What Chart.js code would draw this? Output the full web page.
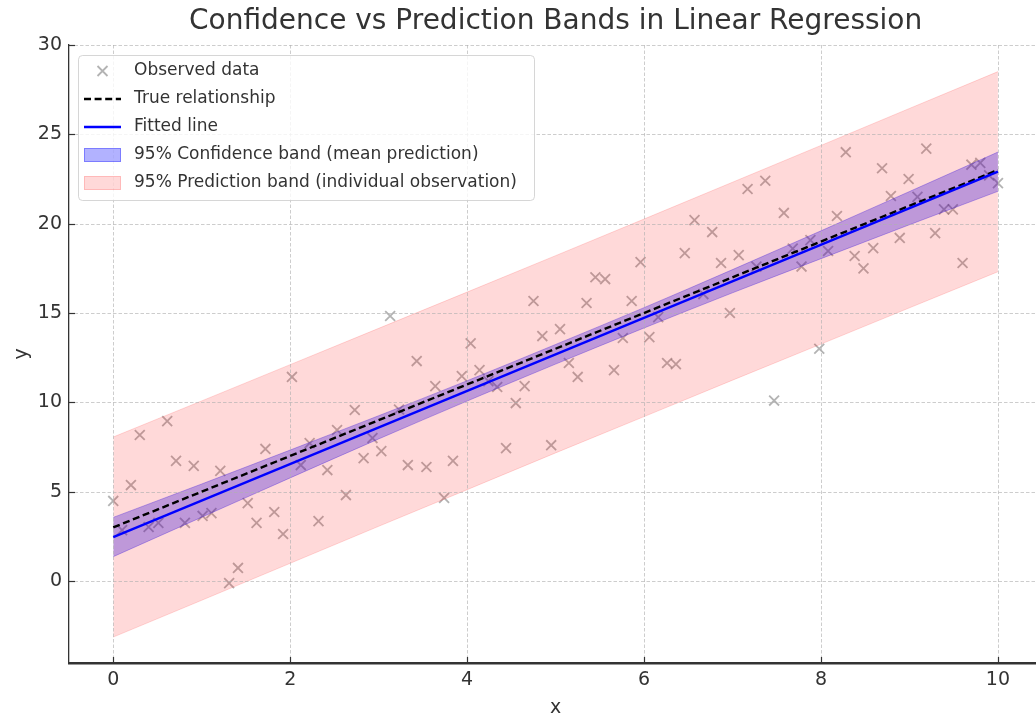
<!DOCTYPE html>
<html>
<head>
<meta charset="utf-8">
<title>Confidence vs Prediction Bands in Linear Regression</title>
<script src="https://cdn.jsdelivr.net/npm/chart.js@4.4.1/dist/chart.umd.min.js"></script>
<style>
  html, body { margin: 0; padding: 0; background: #ffffff; overflow: hidden; }
  #wrap { width: 1036px; height: 723px; position: relative; }
</style>
</head>
<body>
<div id="wrap"><canvas id="chart"></canvas></div>
<script>
// Observed sample (x, y)
const xObs = [
  0.00, 0.10, 0.20, 0.30, 0.40, 0.51, 0.61, 0.71, 0.81, 0.91,
  1.01, 1.11, 1.21, 1.31, 1.41, 1.52, 1.62, 1.72, 1.82, 1.92,
  2.02, 2.12, 2.22, 2.32, 2.42, 2.53, 2.63, 2.73, 2.83, 2.93,
  3.03, 3.13, 3.23, 3.33, 3.43, 3.54, 3.64, 3.74, 3.84, 3.94,
  4.04, 4.14, 4.24, 4.34, 4.44, 4.55, 4.65, 4.75, 4.85, 4.95,
  5.05, 5.15, 5.25, 5.35, 5.45, 5.56, 5.66, 5.76, 5.86, 5.96,
  6.06, 6.16, 6.26, 6.36, 6.46, 6.57, 6.67, 6.77, 6.87, 6.97,
  7.07, 7.17, 7.27, 7.37, 7.47, 7.58, 7.68, 7.78, 7.88, 7.98,
  8.08, 8.18, 8.28, 8.38, 8.48, 8.59, 8.69, 8.79, 8.89, 8.99,
  9.09, 9.19, 9.29, 9.39, 9.49, 9.60, 9.70, 9.80, 9.90, 10.00
];
const yObs = [
  4.48, 2.85, 5.37, 8.17, 3.02, 3.25, 8.95, 6.72, 3.25, 6.44,
  3.64, 3.80, 6.16, -0.12, 0.73, 4.36, 3.25, 7.39, 3.86, 2.63,
  11.42, 6.49, 7.72, 3.35, 6.21, 8.45, 4.81, 9.57, 6.88, 8.00,
  7.27, 14.83, 9.60, 6.49, 12.31, 6.38, 10.91, 4.65, 6.72, 11.47,
  13.30, 11.80, 11.19, 10.86, 7.44, 9.96, 10.91, 15.67, 13.71, 7.60,
  14.10, 12.20, 11.42, 15.56, 17.00, 16.90, 11.80, 13.60, 15.67, 17.85,
  13.65, 14.77, 12.20, 12.14, 18.35, 20.20, 16.06, 19.53, 17.80, 15.00,
  18.24, 21.94, 17.60, 22.40, 10.10, 20.60, 18.60, 17.60, 19.08, 13.00,
  18.47, 20.43, 24.00, 18.19, 17.50, 18.63, 23.10, 21.55, 19.20, 22.50,
  21.50, 24.20, 19.47, 20.80, 20.80, 17.80, 23.30, 23.40, 22.70, 22.27
];

// Reference lines (end points)
const lineX = [0, 10];
const trueY = [3.0, 23.0];
const fitY = [2.46, 22.91];

// Band limits sampled along x
const bandX = [0, 1, 2, 3, 4, 5, 6, 7, 8, 9, 10];
const confUpper = [3.56, 5.43, 7.33, 9.25, 11.21, 13.24, 15.30, 17.43, 19.60, 21.80, 24.01];
const confLower = [1.36, 3.57, 5.77, 7.95, 10.07, 12.14, 14.16, 16.13, 18.04, 19.94, 21.81];
const predUpper = [8.06, 10.08, 12.11, 14.14, 16.17, 18.21, 20.26, 22.32, 24.38, 26.45, 28.51];
const predLower = [-3.14, -1.08, 0.99, 3.06, 5.11, 7.17, 9.20, 11.24, 13.26, 15.29, 17.31];

// Axis ticks
const xTicks = [0, 2, 4, 6, 8, 10];
const yTicks = [0, 5, 10, 15, 20, 25, 30];

// Texts
const chartTitle = 'Confidence vs Prediction Bands in Linear Regression';
const xTitle = 'x';
const yTitle = 'y';
const legendLabels = [
  'Observed data',
  'True relationship',
  'Fitted line',
  '95% Confidence band (mean prediction)',
  '95% Prediction band (individual observation)'
];

const FONT = '"DejaVu Sans", "Liberation Sans", sans-serif';
const TEXT = '#333333';
const POINT_COLOR = 'rgba(128,128,128,0.6)';
const CONF_COLOR = 'rgba(0,0,255,0.3)';
const PRED_COLOR = 'rgba(255,0,0,0.15)';
const LINE_W = 2.4;
const DASH = [7, 3.6];

const pts = (xs, ys) => xs.map((x, i) => ({ x: x, y: ys[i] }));

// Dashed grid, drawn above the bands and below the two lines
const dashedGrid = {
  id: 'dashedGrid',
  beforeDatasetDraw(chart, args) {
    if (args.index !== 1) return;
    const { ctx, chartArea: a, scales: { x, y } } = chart;
    ctx.save();
    ctx.strokeStyle = 'rgba(176,176,176,0.7)';
    ctx.lineWidth = 0.9;
    ctx.setLineDash([3.5, 2]);
    xTicks.forEach(v => {
      const px = Math.round(x.getPixelForValue(v)) + 0.5;
      ctx.beginPath(); ctx.moveTo(px, a.top); ctx.lineTo(px, a.bottom); ctx.stroke();
    });
    yTicks.forEach(v => {
      const py = Math.round(y.getPixelForValue(v)) + 0.5;
      ctx.beginPath(); ctx.moveTo(a.left, py); ctx.lineTo(a.right, py); ctx.stroke();
    });
    ctx.restore();
  }
};

// Title, x label, inward tick marks and the boxed legend
const decorations = {
  id: 'decorations',
  afterDraw(chart) {
    const { ctx, chartArea: a, scales: { x, y } } = chart;
    ctx.save();

    // title and x label centred on the axes span (-0.5 .. 10.5)
    const cx = x.getPixelForValue(5);
    ctx.fillStyle = TEXT;
    ctx.textAlign = 'center';
    ctx.textBaseline = 'middle';
    ctx.font = '28px ' + FONT;
    ctx.fillText(chartTitle, cx, 22);
    ctx.font = '19px ' + FONT;
    ctx.fillText(xTitle, cx, 708);

    ctx.strokeStyle = '#333333';
    ctx.lineWidth = 1.2;
    xTicks.forEach(v => {
      const px = Math.round(x.getPixelForValue(v)) + 0.5;
      ctx.beginPath(); ctx.moveTo(px, a.bottom); ctx.lineTo(px, a.bottom - 6); ctx.stroke();
    });
    yTicks.forEach(v => {
      const py = Math.round(y.getPixelForValue(v)) + 0.5;
      ctx.beginPath(); ctx.moveTo(a.left, py); ctx.lineTo(a.left + 6, py); ctx.stroke();
    });

    // legend frame
    const bx = 78.5, by = 55.5, bw = 456, bh = 145, r = 4;
    ctx.beginPath();
    ctx.moveTo(bx + r, by);
    ctx.lineTo(bx + bw - r, by); ctx.quadraticCurveTo(bx + bw, by, bx + bw, by + r);
    ctx.lineTo(bx + bw, by + bh - r); ctx.quadraticCurveTo(bx + bw, by + bh, bx + bw - r, by + bh);
    ctx.lineTo(bx + r, by + bh); ctx.quadraticCurveTo(bx, by + bh, bx, by + bh - r);
    ctx.lineTo(bx, by + r); ctx.quadraticCurveTo(bx, by, bx + r, by);
    ctx.closePath();
    ctx.fillStyle = 'rgba(255,255,255,0.8)';
    ctx.fill();
    ctx.strokeStyle = 'rgba(204,204,204,0.8)';
    ctx.lineWidth = 1;
    ctx.stroke();

    const rowY = i => 71 + i * 28;
    const x0 = 84, x1 = 121, xm = 102.5;

    // marker
    ctx.strokeStyle = POINT_COLOR;
    ctx.lineWidth = 1.8;
    const s = 5;
    ctx.beginPath();
    ctx.moveTo(xm - s, rowY(0) - s); ctx.lineTo(xm + s, rowY(0) + s);
    ctx.moveTo(xm + s, rowY(0) - s); ctx.lineTo(xm - s, rowY(0) + s);
    ctx.stroke();

    // dashed black
    ctx.strokeStyle = '#000000';
    ctx.lineWidth = LINE_W;
    ctx.setLineDash(DASH);
    ctx.beginPath(); ctx.moveTo(x0, rowY(1)); ctx.lineTo(x1, rowY(1)); ctx.stroke();
    ctx.setLineDash([]);

    // solid blue
    ctx.strokeStyle = '#0000ff';
    ctx.beginPath(); ctx.moveTo(x0, rowY(2)); ctx.lineTo(x1, rowY(2)); ctx.stroke();

    // patches
    [[3, CONF_COLOR], [4, PRED_COLOR]].forEach(([i, c]) => {
      ctx.fillStyle = c;
      ctx.strokeStyle = c;
      ctx.lineWidth = 1;
      ctx.fillRect(x0, rowY(i) - 7, x1 - x0, 14);
      ctx.strokeRect(x0 + 0.5, rowY(i) - 6.5, x1 - x0 - 1, 13);
    });

    ctx.fillStyle = TEXT;
    ctx.font = '17px ' + FONT;
    ctx.textBaseline = 'middle';
    ctx.textAlign = 'left';
    legendLabels.forEach((t, i) => ctx.fillText(t, 134, rowY(i)));
    ctx.restore();
  }
};

new Chart(document.getElementById('chart'), {
  type: 'line',
  data: {
    datasets: [
      { label: legendLabels[2], data: pts(lineX, fitY), order: 0,
        borderColor: '#0000ff', borderWidth: LINE_W, pointRadius: 0, fill: false },
      { label: legendLabels[1], data: pts(lineX, trueY), order: 1,
        borderColor: '#000000', borderWidth: LINE_W, borderDash: DASH, pointRadius: 0, fill: false },
      { label: legendLabels[4], data: pts(bandX, predUpper), order: 2,
        borderColor: PRED_COLOR, backgroundColor: PRED_COLOR, borderWidth: 1, pointRadius: 0, fill: '+1' },
      { label: 'prediction lower', data: pts(bandX, predLower), order: 2,
        borderColor: PRED_COLOR, borderWidth: 1, pointRadius: 0, fill: false },
      { label: legendLabels[3], data: pts(bandX, confUpper), order: 3, cubicInterpolationMode: 'monotone',
        borderColor: CONF_COLOR, backgroundColor: CONF_COLOR, borderWidth: 1, pointRadius: 0, fill: '+1' },
      { label: 'confidence lower', data: pts(bandX, confLower), order: 3, cubicInterpolationMode: 'monotone',
        borderColor: CONF_COLOR, borderWidth: 1, pointRadius: 0, fill: false },
      { label: legendLabels[0], data: pts(xObs, yObs), order: 4, showLine: false,
        pointStyle: 'crossRot', pointRadius: 7, pointBorderWidth: 1.8,
        pointBorderColor: POINT_COLOR, pointBackgroundColor: POINT_COLOR, fill: false }
    ]
  },
  options: {
    responsive: true,
    maintainAspectRatio: false,
    animation: false,
    devicePixelRatio: 1,
    layout: { autoPadding: false, padding: { left: 0, right: 0, top: 45, bottom: 0 } },
    plugins: {
      legend: { display: false },
      tooltip: { enabled: false },
      title: { display: false }
    },
    scales: {
      x: {
        type: 'linear',
        min: -0.5,
        max: 10.43,
        afterBuildTicks: s => { s.ticks = xTicks.map(v => ({ value: v })); },
        afterFit: s => { s.height = 60; s.paddingLeft = 0; s.paddingRight = 0; },
        grid: { display: true, color: 'rgba(0,0,0,0)', drawTicks: false },
        border: { display: true, color: '#333333', width: 2.5 },
        ticks: { color: TEXT, font: { family: FONT, size: 19 }, padding: 6, maxRotation: 0 },
        title: { display: false }
      },
      y: {
        type: 'linear',
        min: -4.59,
        max: 30.0,
        afterBuildTicks: s => { s.ticks = yTicks.map(v => ({ value: v })); },
        afterFit: s => { s.width = 69; s.paddingTop = 0; s.paddingBottom = 0; },
        grid: { display: true, color: 'rgba(0,0,0,0)', drawTicks: false },
        border: { display: true, color: '#333333', width: 1.3 },
        ticks: { color: TEXT, font: { family: FONT, size: 19 }, padding: 7 },
        title: { display: true, text: yTitle, color: TEXT, font: { family: FONT, size: 19 }, padding: { top: 11, bottom: 0 } }
      }
    }
  },
  plugins: [dashedGrid, decorations]
});
</script>
</body>
</html>
